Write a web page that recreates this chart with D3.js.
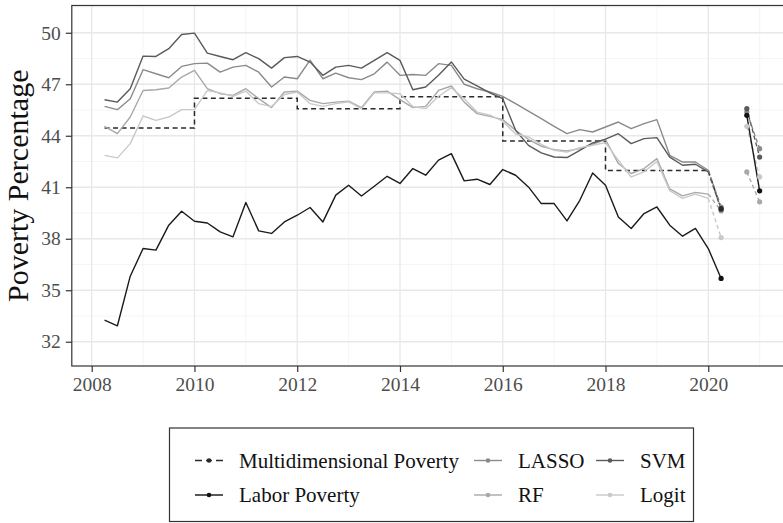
<!DOCTYPE html>
<html>
<head>
<meta charset="utf-8">
<script src="https://cdn.jsdelivr.net/npm/d3@7/dist/d3.min.js"></script>
<style>
  body { margin: 0; background: #fff; }
  svg { display: block; }
  svg, svg text { font-family: "Liberation Serif", "Times New Roman", serif; }
</style>
</head>
<body>
<svg id="chart" width="783" height="523" font-family="Liberation Serif, serif"></svg>
<script>
// Quarterly observation dates (decimal years), 2008 Q2 .. 2020 Q2
const quarters = [
  2008.25, 2008.5, 2008.75,
  2009, 2009.25, 2009.5, 2009.75,
  2010, 2010.25, 2010.5, 2010.75,
  2011, 2011.25, 2011.5, 2011.75,
  2012, 2012.25, 2012.5, 2012.75,
  2013, 2013.25, 2013.5, 2013.75,
  2014, 2014.25, 2014.5, 2014.75,
  2015, 2015.25, 2015.5, 2015.75,
  2016, 2016.25, 2016.5, 2016.75,
  2017, 2017.25, 2017.5, 2017.75,
  2018, 2018.25, 2018.5, 2018.75,
  2019, 2019.25, 2019.5, 2019.75,
  2020, 2020.25
];

// Labor poverty (%)
const laborPoverty = [
  33.26, 32.93, 35.82,
  37.43, 37.34, 38.79, 39.60,
  39.02, 38.92, 38.40, 38.11,
  40.11, 38.46, 38.31, 38.98,
  39.37, 39.82, 38.98, 40.54,
  41.12, 40.49, 41.06, 41.64,
  41.22, 42.09, 41.70, 42.58,
  42.96, 41.37, 41.47, 41.16,
  42.03, 41.70, 41.02, 40.05,
  40.05, 39.04, 40.24, 41.83,
  41.12, 39.27, 38.60, 39.47,
  39.85, 38.79, 38.15, 38.60,
  37.43, 35.69
];

// Model estimates of multidimensional poverty (%)
const lassoValues = [
  45.71, 45.52, 46.16,
  47.85, 47.61, 47.38, 48.04,
  48.20, 48.23, 47.71, 48.00,
  48.10, 47.70, 46.84, 47.42,
  47.32, 48.40, 47.32, 47.65,
  47.38, 47.27, 47.61, 48.29,
  47.52, 47.57, 47.52, 48.20,
  48.10, 47.00, 46.74, 46.55,
  46.29, 45.87, 45.44, 45.00,
  44.55, 44.12, 44.36, 44.22,
  44.51, 44.80, 44.41, 44.71,
  44.94, 42.86, 42.47, 42.47,
  41.99, 39.85
];
const svmValues = [
  46.10, 45.96, 46.74,
  48.64, 48.62, 49.07, 49.90,
  49.98, 48.81, 48.62, 48.43,
  48.84, 48.49, 47.94, 48.55,
  48.62, 48.29, 47.52, 48.00,
  48.10, 47.94, 48.39, 48.84,
  48.39, 46.68, 46.84, 47.52,
  48.30, 47.30, 46.90, 46.50,
  46.16, 44.32, 43.44, 43.00,
  42.76, 42.73, 43.15, 43.58,
  43.80, 44.12, 43.54, 43.83,
  43.89, 42.76, 42.28, 42.34,
  41.89, 39.70
];
const rfValues = [
  44.55, 44.12, 45.09,
  46.64, 46.68, 46.78, 47.42,
  47.81, 46.74, 46.45, 46.35,
  46.74, 46.16, 45.64, 46.55,
  46.60, 46.06, 45.87, 45.96,
  46.02, 45.64, 46.55, 46.60,
  46.10, 45.64, 45.71, 46.64,
  46.90, 45.96, 45.29, 45.13,
  44.94, 44.32, 43.78, 43.39,
  43.19, 43.11, 43.25, 43.50,
  43.78, 42.38, 41.80, 42.09,
  42.67, 40.90, 40.50, 40.70,
  40.60, 39.62
];
const logitValues = [
  42.86, 42.71, 43.54,
  45.15, 44.90, 45.09, 45.52,
  45.52, 46.64, 46.50, 46.30,
  46.60, 45.87, 45.70, 46.40,
  46.55, 45.87, 45.71, 45.87,
  45.98, 45.58, 46.50, 46.50,
  46.45, 45.70, 45.58, 46.30,
  46.80, 46.16, 45.38, 45.20,
  44.85, 44.10, 43.93, 43.50,
  43.15, 43.05, 43.30, 43.45,
  43.60, 42.57, 41.60, 41.90,
  42.50, 40.80, 40.35, 40.60,
  40.35, 38.07
];

// Official multidimensional poverty: one value per two-year period
const mdBreaks = [2008.25, 2010, 2012, 2014, 2016, 2018, 2020];
const mdValues = [44.45, 46.18, 45.58, 46.27, 43.69, 41.97];
const mdNowcast = { year: 2020.25, value: 39.75 };

// Out-of-sample quarters
const forecastQuarters = [2020.75, 2021];
const laborForecast = [45.19, 40.79];
const lassoForecast = [45.38, 43.25];
const svmForecast   = [45.58, 42.76];
const rfForecast    = [41.89, 40.15];
const logitForecast = [44.55, 41.60];

// Axis ticks
const xTicks = [2008, 2010, 2012, 2014, 2016, 2018, 2020];
const xMinor = [2009, 2011, 2013, 2015, 2017, 2019, 2021];
const yTicks = [32, 35, 38, 41, 44, 47, 50];
const yMinor = [33.5, 36.5, 39.5, 42.5, 45.5, 48.5, 51.5];

const series = [
  { name: "LASSO", values: lassoValues, forecast: lassoForecast, color: "#8a8a8a" },
  { name: "RF",    values: rfValues,    forecast: rfForecast,    color: "#a8a8a8" },
  { name: "SVM",   values: svmValues,   forecast: svmForecast,   color: "#5a5a5a" },
  { name: "Logit", values: logitValues, forecast: logitForecast, color: "#c9c9c9" }
];

const FONT = '"Liberation Serif", "Times New Roman", serif';
const svg = d3.select("#chart");
const panel = { left: 71.8, right: 792.4, top: 5.5, bottom: 366 };

const x = d3.scaleLinear().domain([2007.6125, 2021.6375]).range([panel.left, panel.right]);
const y = d3.scaleLinear().domain([30.587, 51.588]).range([panel.bottom, panel.top]);

// gridlines
const grid = svg.append("g");
grid.selectAll(".ym").data(yMinor).join("line")
  .attr("x1", panel.left).attr("x2", panel.right)
  .attr("y1", d => y(d)).attr("y2", d => y(d))
  .attr("stroke", "#f2f2f2").attr("stroke-width", 0.8);
grid.selectAll(".xm").data(xMinor).join("line")
  .attr("y1", panel.top).attr("y2", panel.bottom)
  .attr("x1", d => x(d)).attr("x2", d => x(d))
  .attr("stroke", "#f2f2f2").attr("stroke-width", 0.8);
grid.selectAll(".yM").data(yTicks).join("line")
  .attr("x1", panel.left).attr("x2", panel.right)
  .attr("y1", d => y(d)).attr("y2", d => y(d))
  .attr("stroke", "#e8e8e8").attr("stroke-width", 1.3);
grid.selectAll(".xM").data(xTicks).join("line")
  .attr("y1", panel.top).attr("y2", panel.bottom)
  .attr("x1", d => x(d)).attr("x2", d => x(d))
  .attr("stroke", "#e8e8e8").attr("stroke-width", 1.3);

const line = d3.line().x(d => x(d[0])).y(d => y(d[1]));
const plot = svg.append("g");

// multidimensional poverty step line
const mdPoints = mdValues.map((v, i) => [mdBreaks[i], v]);
mdPoints.push([mdBreaks[mdBreaks.length - 1], mdValues[mdValues.length - 1]]);
plot.append("path")
  .attr("d", d3.line().x(d => x(d[0])).y(d => y(d[1])).curve(d3.curveStepAfter)(mdPoints))
  .attr("fill", "none").attr("stroke", "#2a2a2a").attr("stroke-width", 1.5)
  .attr("stroke-dasharray", "5,3.5");
plot.append("path")
  .attr("d", line([[2020, mdValues[mdValues.length - 1]], [mdNowcast.year, mdNowcast.value]]))
  .attr("fill", "none").attr("stroke", "#2a2a2a").attr("stroke-width", 1.5)
  .attr("stroke-dasharray", "5,3.5");

// model lines: observed period solid, final quarter dashed
const lastObs = quarters.length - 2;
series.forEach(s => {
  const pts = quarters.map((q, i) => [q, s.values[i]]);
  plot.append("path").attr("d", line(pts.slice(0, lastObs + 1)))
    .attr("fill", "none").attr("stroke", s.color).attr("stroke-width", 1.4)
    .attr("stroke-linejoin", "round");
  plot.append("path").attr("d", line(pts.slice(lastObs)))
    .attr("fill", "none").attr("stroke", s.color).attr("stroke-width", 1.4)
    .attr("stroke-dasharray", "4,3");
  const fpts = forecastQuarters.map((q, i) => [q, s.forecast[i]]);
  plot.append("path").attr("d", line(fpts))
    .attr("fill", "none").attr("stroke", s.color).attr("stroke-width", 1.4)
    .attr("stroke-dasharray", "4,3");
});

// labor poverty
const laborPts = quarters.map((q, i) => [q, laborPoverty[i]]);
plot.append("path").attr("d", line(laborPts))
  .attr("fill", "none").attr("stroke", "#1a1a1a").attr("stroke-width", 1.4)
  .attr("stroke-linejoin", "round");
plot.append("path").attr("d", line(forecastQuarters.map((q, i) => [q, laborForecast[i]])))
  .attr("fill", "none").attr("stroke", "#1a1a1a").attr("stroke-width", 1.4);

// end-point markers
const dots = [];
series.forEach(s => {
  dots.push({ q: quarters[quarters.length - 1], v: s.values[s.values.length - 1], c: s.color });
  forecastQuarters.forEach((q, i) => dots.push({ q, v: s.forecast[i], c: s.color }));
});
dots.push({ q: mdNowcast.year, v: mdNowcast.value, c: "#2a2a2a" });
dots.push({ q: quarters[quarters.length - 1], v: laborPoverty[laborPoverty.length - 1], c: "#111" });
forecastQuarters.forEach((q, i) => dots.push({ q, v: laborForecast[i], c: "#111" }));
plot.selectAll("circle").data(dots).join("circle")
  .attr("cx", d => x(d.q)).attr("cy", d => y(d.v)).attr("r", 2.6)
  .attr("fill", d => d.c);

// panel border
svg.append("rect")
  .attr("x", panel.left).attr("y", panel.top)
  .attr("width", panel.right - panel.left).attr("height", panel.bottom - panel.top)
  .attr("fill", "none").attr("stroke", "#333").attr("stroke-width", 1.2);

// axes
const xAxis = svg.append("g").attr("transform", `translate(0,${panel.bottom})`)
  .call(d3.axisBottom(x).tickValues(xTicks).tickFormat(d3.format("d")).tickSize(6).tickPadding(5));
const yAxis = svg.append("g").attr("transform", `translate(${panel.left},0)`)
  .call(d3.axisLeft(y).tickValues(yTicks).tickFormat(d3.format("d")).tickSize(6).tickPadding(5));
[xAxis, yAxis].forEach(a => {
  a.attr("font-family", FONT).attr("font-size", 19.5);
  a.select(".domain").remove();
  a.selectAll(".tick line").attr("stroke", "#333").attr("stroke-width", 1.2);
  a.selectAll(".tick text").attr("fill", "#4d4d4d");
});

svg.append("text")
  .attr("transform", `translate(28,${(panel.top + panel.bottom) / 2}) rotate(-90)`)
  .attr("text-anchor", "middle").attr("font-size", 30).attr("fill", "#111")
  .attr("font-family", FONT)
  .text("Poverty Percentage");

// legend
const legend = svg.append("g").attr("font-family", FONT);
legend.append("rect").attr("x", 169.5).attr("y", 428).attr("width", 524).attr("height", 93.5)
  .attr("fill", "#fff").attr("stroke", "#333").attr("stroke-width", 1.2);
const legendItems = [
  { label: "Multidimensional Poverty", color: "#2a2a2a", dash: "7,4,6,4,7", col: 0, row: 0 },
  { label: "Labor Poverty", color: "#111", dash: null, col: 0, row: 1 },
  { label: "LASSO", color: "#8a8a8a", dash: null, col: 1, row: 0 },
  { label: "RF", color: "#a8a8a8", dash: null, col: 1, row: 1 },
  { label: "SVM", color: "#5a5a5a", dash: null, col: 2, row: 0 },
  { label: "Logit", color: "#c9c9c9", dash: null, col: 2, row: 1 }
];
const colX = [195, 474, 596];
const rowY = [460.5, 495];
legendItems.forEach(it => {
  const g = legend.append("g").attr("transform", `translate(${colX[it.col]},${rowY[it.row]})`);
  g.append("line").attr("x1", 0).attr("x2", 28).attr("y1", 0).attr("y2", 0)
    .attr("stroke", it.color).attr("stroke-width", 1.4)
    .attr("stroke-dasharray", it.dash);
  g.append("circle").attr("cx", 14).attr("cy", 0).attr("r", 2.3).attr("fill", it.color);
  g.append("text").attr("x", 44).attr("y", 0).attr("dy", "0.35em")
    .attr("font-size", 21).attr("fill", "#111").text(it.label);
});
</script>
</body>
</html>
